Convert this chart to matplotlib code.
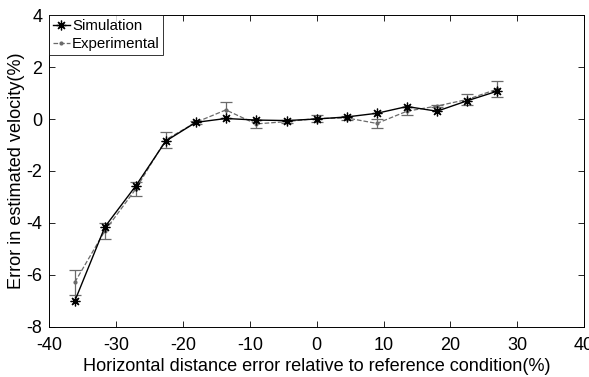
import matplotlib
matplotlib.use("Agg")
import matplotlib.pyplot as plt

plt.rcParams['font.family'] = ['Liberation Sans', 'DejaVu Sans']
plt.rcParams['axes.unicode_minus'] = False

x_vals = [-36.2, -31.7, -27.1, -22.6, -18.1, -13.6, -9.1, -4.5, 0.0, 4.5, 9.0, 13.5, 18.0, 22.5, 27.0]
sim_vals = [-7.0, -4.15, -2.58, -0.85, -0.13, 0.02, -0.04, -0.06, 0.0, 0.08, 0.22, 0.48, 0.3, 0.7, 1.07]
exp_vals = [-6.28, -4.3, -2.7, -0.8, -0.13, 0.35, -0.19, -0.1, 0.02, 0.04, -0.17, 0.3, 0.5, 0.75, 1.15]
exp_err = [0.48, 0.3, 0.27, 0.3, 0.05, 0.3, 0.17, 0.06, 0.15, 0.08, 0.16, 0.16, 0.05, 0.22, 0.3]

xticks = [-40, -30, -20, -10, 0, 10, 20, 30, 40]
yticks = [-8, -6, -4, -2, 0, 2, 4]

fig = plt.figure(figsize=(5.89, 3.77), dpi=100)
ax = fig.add_axes([0.084, 0.133, 0.9075, 0.827])

ax.plot(x_vals, sim_vals, color='black', linewidth=1.0, marker=(8, 2, 0),
        markersize=7, markeredgewidth=0.9, label='Simulation', zorder=3)
ax.errorbar(x_vals, exp_vals, yerr=exp_err, color='#6a6a6a', linestyle='none',
            capsize=4, elinewidth=0.9, capthick=0.9, zorder=2)
ax.plot(x_vals, exp_vals, color='#6a6a6a', linestyle='--', linewidth=0.9,
        marker='.', markersize=4, label='Experimental', zorder=2)

ax.set_xlim(-40, 40)
ax.set_ylim(-8, 4)
ax.set_xticks(xticks)
ax.set_yticks(yticks)
ax.tick_params(direction='in', top=True, right=True, labelsize=13, length=4, width=0.6)
ax.tick_params(axis='x', pad=7)
ax.tick_params(axis='y', pad=5)
for s in ax.spines.values():
    s.set_linewidth(0.7)

ax.set_xlabel('Horizontal distance error relative to reference condition(%)', fontsize=13.1, labelpad=3)
ax.set_ylabel('Error in estimated velocity(%)', fontsize=13.1, labelpad=1)

leg = ax.legend(loc='upper left', fontsize=10.8, frameon=True, fancybox=False,
                borderpad=0.25, handlelength=1.1, handletextpad=0.15, labelspacing=0.3,
                borderaxespad=0.0, edgecolor='black')
leg.get_frame().set_linewidth(0.7)

fig.savefig('out.png', dpi=100)
